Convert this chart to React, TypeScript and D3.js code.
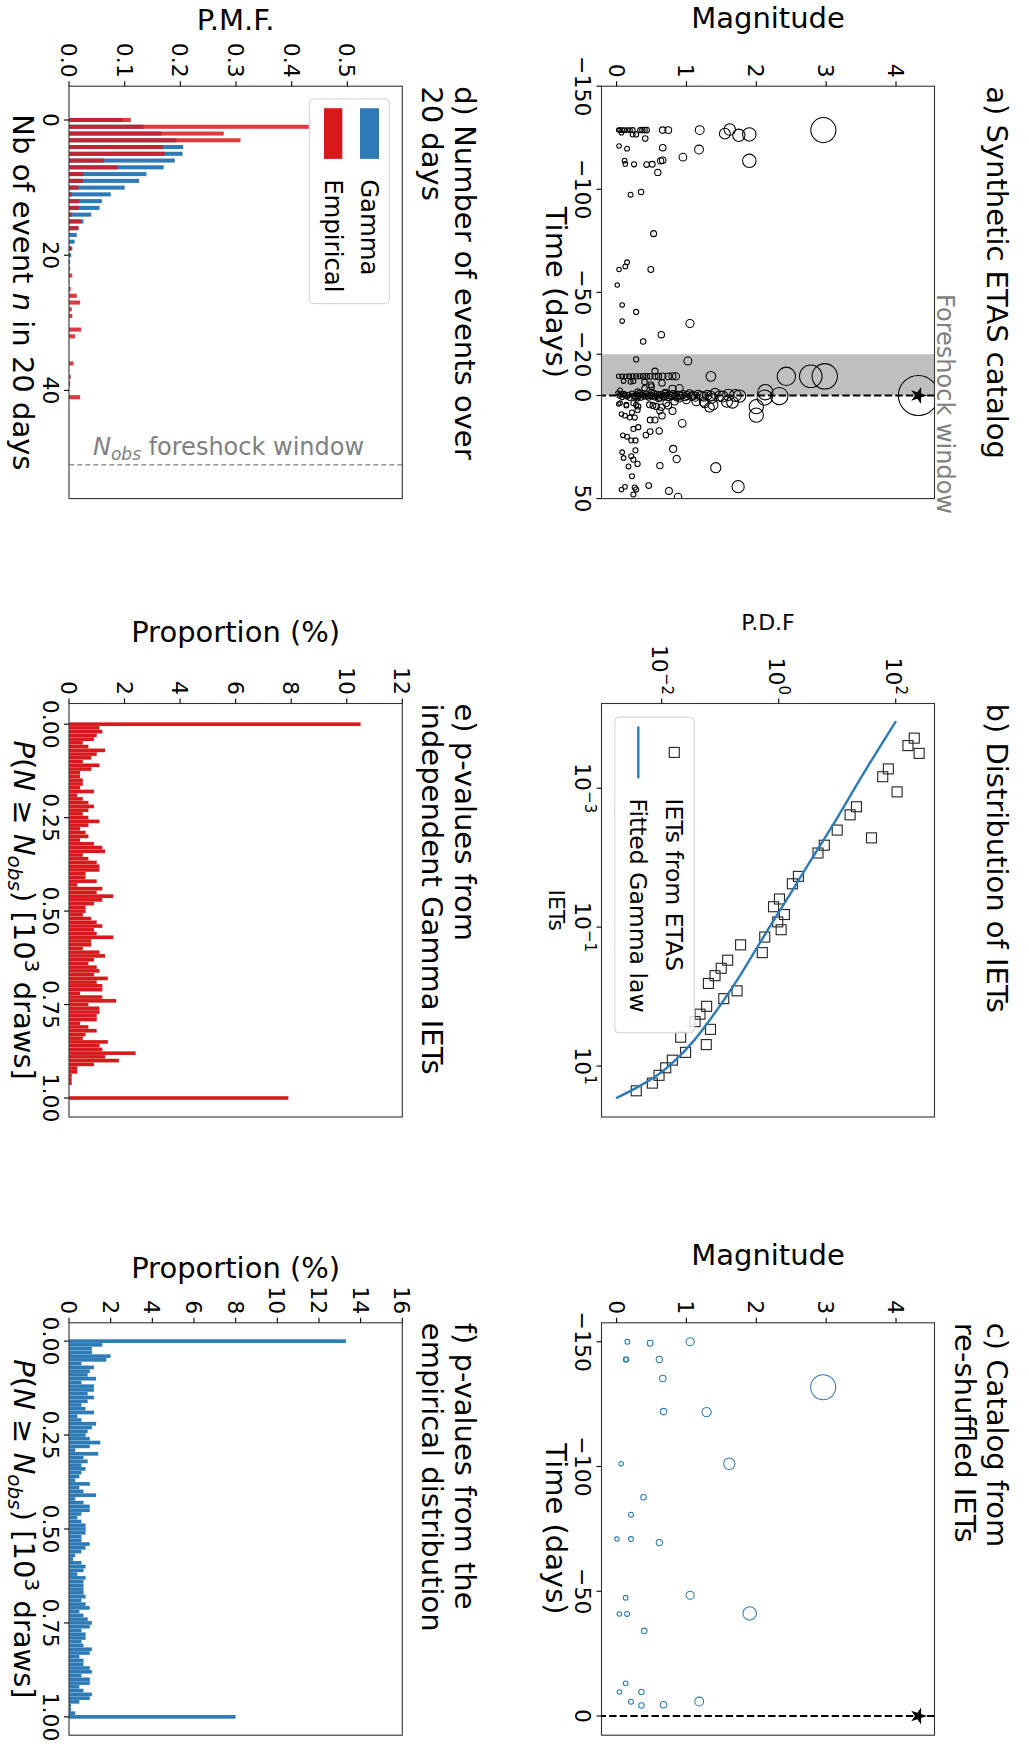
import React from "react";
import * as d3 from "d3";

// ---------------- DATA ----------------
// a) synthetic ETAS catalog: [time (days), magnitude]
const etasEvents: [number, number][] = [
  [-128.7, 0.03], [-128.7, 0.05], [-128.7, 0.08], [-128.7, 0.11], [-128.7, 0.15], [-128.7, 0.19], [-128.7, 0.23],
  [-128.7, 0.34], [-128.7, 0.37], [-128.7, 0.4], [-128.7, 0.43], [-128.7, 0.66], [-128.7, 0.74], [-128.7, 1.19], [-128.7, 2.96],
  [-129, 1.62], [-127.4, 0.07], [-126.6, 0.23], [-126.6, 0.28], [-127, 1.55], [-126.2, 1.75], [-126.6, 1.9],
  [-124.6, 0.41], [-121, 0.035], [-120.2, 0.66], [-119.7, 0.15], [-119.3, 1.18], [-115.6, 0.95], [-113.8, 1.9],
  [-113.9, 0.115], [-113.8, 0.63], [-114.1, 0.66], [-112.3, 0.125], [-112.1, 0.25], [-112, 0.43], [-112.1, 0.51],
  [-108.2, 0.59], [-97.4, 0.2], [-98.7, 0.35], [-78.5, 0.53], [-64.6, 0.15], [-62.6, 0.125], [-61.1, 0.035],
  [-61.1, 0.49], [-53.6, 0.01], [-43.9, 0.08], [-40.5, 0.28], [-36.1, 0.08], [-34.9, 1.05], [-29.5, 0.64], [-26.2, 0.38],
  [-17.5, 0.28], [-16.7, 1.02], [-11.8, 0.55], [-9.3, 1.35], [-9.3, 2.43], [-9.3, 2.78], [-9.3, 2.98],
  [-9.3, 0.03], [-9.3, 0.08], [-9.3, 0.13], [-9.3, 0.18], [-9.3, 0.23], [-9.3, 0.28], [-9.3, 0.33], [-9.3, 0.38],
  [-9.3, 0.43], [-9.3, 0.48], [-9.3, 0.55], [-9.3, 0.6], [-9.3, 0.66], [-9.3, 0.74], [-9.3, 0.8], [-9.3, 0.85],
  [-7, 0.1], [-6.7, 0.2], [-6.9, 0.24], [-6.5, 0.4], [-5.2, 0.49], [-6.1, 0.65], [-3.5, 0.4], [-4.3, 0.5],
  [-3.3, 0.8], [-3.5, 0.9], [-2.5, 0.05], [-2.0, 0.3],
  [-1.2, 0.02], [-0.6, 0.05], [0.3, 0.04], [0.9, 0.08], [-0.9, 0.1], [0.1, 0.12], [0.6, 0.15], [-0.4, 0.17],
  [1.2, 0.19], [-1.0, 0.22], [0.2, 0.24], [0.8, 0.27], [-0.5, 0.29], [0.4, 0.31], [-1.3, 0.33], [1.0, 0.35],
  [-0.2, 0.37], [0.5, 0.4], [-0.8, 0.42], [0.1, 0.44], [0.9, 0.46], [-0.3, 0.49], [0.3, 0.51], [-1.1, 0.53],
  [0.7, 0.55], [-0.6, 0.58], [0.2, 0.6], [1.1, 0.62], [-0.4, 0.64], [0.5, 0.67], [-0.9, 0.69], [0.0, 0.71],
  [0.8, 0.74], [-0.2, 0.76], [0.4, 0.79], [-0.7, 0.81], [0.1, 0.84], [0.9, 0.86], [-0.3, 0.89], [0.3, 0.92],
  [-0.5, 0.95], [0.6, 0.98], [0.0, 1.01], [-0.8, 1.04], [0.4, 1.07], [-0.1, 1.1], [0.7, 1.13], [-0.4, 1.17],
  [0.2, 1.21], [0.5, 1.25], [-0.2, 1.3], [0.3, 1.35], [-0.6, 0.12], [1.4, 0.3], [1.5, 0.6], [-1.4, 0.7],
  [1.3, 0.9], [-1.5, 0.5],
  [-1.6, 2.13], [0.3, 2.33], [1.0, 2.12], [0.3, 1.76], [0.0, 1.7], [-0.3, 1.6], [0.5, 1.52], [3.0, 1.58],
  [4.6, 1.38], [5.4, 2.0], [1.4, 1.36], [-1.0, 1.41], [3.0, 1.25], [0.2, 1.48],
  [3.7, 0.05], [4.5, 0.14], [3.7, 0.24], [5.3, 0.31], [4.5, 0.47], [5.3, 0.57], [3.7, 0.71], [2.9, 0.83],
  [2.1, 1.0], [2.9, 1.14], [3.7, 1.26], [4.1, 0.03], [4.9, 0.14], [4.6, 0.28], [4.9, 0.52], [5.7, 0.64],
  [4.9, 0.74], [5.7, 1.33], [3.3, 1.66], [8.2, 0.22], [7.4, 0.62],
  [9.0, 0.07], [9.8, 0.12], [10.7, 0.19], [10.7, 0.26], [7.0, 0.3], [11.9, 0.48], [11.9, 0.55], [9.8, 0.65],
  [13.5, 0.94], [7.5, 0.8], [17.2, 0.61], [17.5, 0.48], [19.2, 0.42], [16.2, 0.24], [15.4, 0.31], [19.3, 0.09],
  [20, 0.15], [21.8, 0.21], [21.8, 0.27], [25.9, 0.81], [30.8, 0.86], [35.0, 1.42], [34.0, 0.62], [33.2, 0.3],
  [27.5, 0.08], [30.3, 0.1], [34.4, 0.17], [29.5, 0.21], [31.1, 0.24], [26.6, 0.27], [39.2, 0.22], [44.2, 1.74],
  [45.6, 0.07], [44.3, 0.12], [44.6, 0.26], [45.6, 0.28], [43.7, 0.46], [46.3, 0.75], [48.0, 0.24], [9.5, 2.0],
  [49.2, 0.88],
];
const mainShockTime = 0;
const mainShockMag = 4.32;

// c) catalog from re-shuffled IETs: [time (days), magnitude]
const reshuffledEvents: [number, number][] = [
  [-150.0, 0.155], [-149.4, 0.481], [-150.0, 1.053], [-142.9, 0.14], [-142.9, 0.13], [-142.9, 0.612],
  [-135.3, 0.662], [-131.8, 2.957], [-122.0, 0.672], [-121.8, 1.288], [-101.1, 0.065], [-101.1, 1.614],
  [-87.7, 0.386], [-80.7, 0.206], [-70.9, 0.005], [-70.9, 0.206], [-69.5, 0.612], [-48.4, 1.053],
  [-47.4, 0.13], [-40.9, 0.04], [-40.9, 0.15], [-41.1, 1.905], [-34.1, 0.396], [-13.1, 0.13],
  [-9.6, 0.04], [-9.6, 0.356], [-5.7, 0.206], [-4.2, 0.356], [-4.5, 0.672], [-5.8, 1.183],
];

// b) distribution of IETs
const ietBins = [1.905e-4, 2.438e-4, 3.155e-4, 5.28e-4, 6.84e-4, 1.13e-3, 1.85e-3, 2.42e-3, 5.19e-3, 4.01e-3,
  6.62e-3, 8.57e-3, 1.86e-2, 2.38e-2, 3.94e-2, 5.09e-2, 6.59e-2, 8.41e-2, 0.109, 0.139,
  0.18, 0.233, 0.299, 0.391, 0.5, 0.647, 0.826, 1.07, 1.38, 1.79,
  2.29, 2.96, 3.84, 4.91, 6.35, 8.22, 10.6, 13.6, 17.6, 22.7];
const ietPdf = [207.5, 161.8, 251.2, 74.8, 60.0, 105.4, 21.3, 16.6, 38.5, 10.0,
  6.01, 4.69, 2.17, 1.71, 1.03, 0.815, 1.25, 0.962, 1.10, 0.577,
  0.223, 0.524, 0.134, 0.104, 0.0815, 0.0628, 0.194, 0.115, 0.0586, 0.0451,
  0.0372, 0.0682, 0.0211, 0.0578, 0.0256, 0.0152, 0.0117, 0.009, 0.00692, 0.00367];
const gammaIet = [1.08e-4, 6.27e-4, 3.5e-3, 1.19e-2, 3.4e-2, 8.53e-2, 0.201, 0.475, 1.06, 2.21, 4.34, 8.01, 13.1, 20.1, 29.1];
const gammaPdf = [101, 27.7, 8.24, 3.32, 1.55, 0.78, 0.42, 0.226, 0.121, 0.0653, 0.0352, 0.0177, 0.00885, 0.00387, 0.00165];

// d) number of events over 20 days (n = 0..41)
const pmfGamma = [0.096, 0.134, 0.166, 0.193, 0.205, 0.204, 0.19, 0.17, 0.139, 0.126,
  0.1, 0.075, 0.059, 0.055, 0.04, 0.026, 0.017, 0.014, 0.01, 0.006,
  0.004, 0.002, 0.002, 0.001, 0.0006, 0, 0, 0, 0, 0, 0, 0, 0, 0, 0, 0, 0, 0, 0, 0, 0, 0];
const pmfEmpirical = [0.111, 0.431, 0.278, 0.308, 0.169, 0.172, 0.063, 0.087, 0.026, 0.025,
  0.017, 0.005, 0.018, 0.018, 0.005, 0.022, 0.017, 0, 0, 0.004,
  0, 0, 0, 0.006, 0, 0.003, 0.014, 0.02, 0.005, 0.006,
  0, 0.022, 0.011, 0, 0, 0, 0.008, 0, 0.003, 0.002, 0, 0.02];
const nObs = 51;

// e) p-values from independent Gamma IETs (%), bins centred at 0.00 ... 1.00
const propIndependent = [10.5,
  1.1, 1.2, 1.0, 0.9, 0.5, 0.7, 1.3, 1.0, 0.8, 0.5,
  1.1, 0.8, 0.4, 0.4, 0.5, 0.5, 0.4, 0.9, 0.3, 0.5,
  0.7, 0.9, 0.7, 0.5, 0.7, 1.1, 0.7, 0.4, 0.6, 0.7,
  0.4, 0.9, 1.2, 1.3, 0.5, 0.7, 1.0, 1.1, 1.1, 0.6,
  0.6, 1.0, 0.3, 1.2, 1.0, 1.6, 1.2, 0.9, 0.6, 0.6,
  0.5, 0.8, 1.0, 1.2, 0.9, 1.0, 1.6, 0.8, 0.8, 0.5,
  1.1, 1.3, 0.9, 0.7, 1.0, 1.1, 0.9, 1.4, 1.0, 1.2,
  1.2, 0.4, 1.2, 1.7, 0.7, 1.1, 1.1, 1.0, 1.0, 0.4,
  0.7, 1.0, 0.6, 0.5, 1.4, 1.1, 1.2, 2.4, 1.3, 1.8,
  0.9, 0.3, 0.3, 0.1, 0.1, 0.1, 0, 0, 0,
  7.9];
// f) p-values from the empirical distribution (%)
const propEmpirical = [13.3,
  1.6, 1.1, 1.1, 2.0, 1.8, 0.6, 1.2, 1.0, 0.9, 1.3,
  0.6, 1.2, 1.2, 0.9, 1.2, 0.9, 0.6, 0.8, 1.2, 0.4,
  0.6, 1.3, 1.1, 0.9, 0.8, 1.0, 1.5, 1.0, 0.3, 1.4,
  0.7, 0.9, 0.6, 0.8, 0.6, 0.5, 0.3, 1.0, 0.5, 0.7,
  1.3, 0.3, 0.7, 1.0, 1.0, 0.6, 0.4, 0.6, 0.8, 0.8,
  0.8, 0.6, 0.6, 1.0, 0.8, 0.6, 0.3, 0.2, 0.6, 0.8,
  0.7, 0.4, 0.8, 0.7, 0.7, 0.7, 0.7, 0.8, 0.6, 0.8,
  1.0, 0.5, 0.7, 0.9, 1.1, 1.0, 0.6, 0.8, 0.8, 0.6,
  0.7, 1.1, 1.0, 0.5, 0.7, 0.7, 1.0, 1.1, 0.6, 1.0,
  1.0, 0.5, 0.7, 1.1, 1.0, 0.5, 0.1, 0.1, 0.3,
  8.0];
const pBinWidth = 0.01;

// tick values
const timeTicksA = [-150, -100, -50, -20, 0, 50];
const timeTicksC = [-150, -100, -50, 0];
const magTicks = [0, 1, 2, 3, 4];
const ietTicks = [1e-3, 1e-1, 1e1];
const pdfTicks = [1e-2, 1, 1e2];
const nTicks = [0, 20, 40];
const pmfTicks = [0, 0.1, 0.2, 0.3, 0.4, 0.5];
const pTicks = [0, 0.25, 0.5, 0.75, 1];
const propTicksE = [0, 2, 4, 6, 8, 10, 12];
const propTicksF = [0, 2, 4, 6, 8, 10, 12, 14, 16];

// ---------------- STYLE ----------------
const FONT = "DejaVu Sans, Liberation Sans, sans-serif";
const RED = "#d7191c";
const BLUE = "#2c7bb6";
const SPINE = "#333";
const TICK_FS = 22;
const LABEL_FS = 29;
const TITLE_FS = 29;

const markerRadius = (m: number) => 2.2 * Math.pow(1.8, m);
const signed = (v: number) => (v < 0 ? "\u2212" + Math.abs(v) : String(v));

type Box = { x0: number; x1: number; y0: number; y1: number };

const boxA: Box = { x0: 86.2, x1: 498.6, y0: 94.5, y1: 427.5 };
const boxB: Box = { x0: 703.5, x1: 1117, y0: 94.5, y1: 427.5 };
const boxC: Box = { x0: 1322.8, x1: 1735.2, y0: 94.5, y1: 427.5 };
const boxD: Box = { x0: 86.2, x1: 498.6, y0: 626.7, y1: 960 };
const boxE: Box = { x0: 703.5, x1: 1117, y0: 626.7, y1: 960 };
const boxF: Box = { x0: 1322.8, x1: 1735.2, y0: 626.7, y1: 960 };

function Frame({ b }: { b: Box }) {
  return <rect x={b.x0} y={b.y0} width={b.x1 - b.x0} height={b.y1 - b.y0} fill="none" stroke={SPINE} strokeWidth={1.1} />;
}

function BottomTicks({ b, ticks, scale, fmt, fs = TICK_FS }: any) {
  return (
    <g>
      {ticks.map((t: number, i: number) => (
        <g key={i}>
          <line x1={scale(t)} x2={scale(t)} y1={b.y1} y2={b.y1 + 5} stroke="#000" strokeWidth={1.1} />
          <text x={scale(t)} y={b.y1 + 26.5} textAnchor="middle" fontSize={fs}>{fmt(t)}</text>
        </g>
      ))}
    </g>
  );
}

function LeftTicks({ b, ticks, scale, fmt, fs = TICK_FS }: any) {
  return (
    <g>
      {ticks.map((t: number, i: number) => (
        <g key={i}>
          <line x1={b.x0 - 5} x2={b.x0} y1={scale(t)} y2={scale(t)} stroke="#000" strokeWidth={1.1} />
          <text x={b.x0 - 8.5} y={scale(t) + 8} textAnchor="end" fontSize={fs}>{fmt(t)}</text>
        </g>
      ))}
    </g>
  );
}

function Title({ b, lines }: { b: Box; lines: string[] }) {
  const ys = lines.length === 1 ? [b.y0 - 52.5] : [b.y0 - 52.5, b.y0 - 20];
  return (
    <g>
      {lines.map((l, i) => (
        <text key={i} x={b.x0} y={ys[i]} fontSize={TITLE_FS}>{l}</text>
      ))}
    </g>
  );
}

function YLabel({ x, y, fs = LABEL_FS, children }: any) {
  return (
    <text transform={`translate(${x},${y}) rotate(-90)`} textAnchor="middle" fontSize={fs}>{children}</text>
  );
}

function Catalog({ b, events, domainT, ticksT, color, title, clipId, withShock, shade, fwText }: any) {
  const x = d3.scaleLinear().domain(domainT).range([b.x0, b.x1]);
  const y = d3.scaleLinear().domain([-0.216, 4.551]).range([b.y1, b.y0]);
  const star = d3.symbol().type(d3.symbolStar).size(88)() as string;
  return (
    <g>
      <defs>
        <clipPath id={clipId}>
          <rect x={b.x0} y={b.y0} width={b.x1 - b.x0} height={b.y1 - b.y0} />
        </clipPath>
      </defs>
      {shade && (
        <rect x={x(-20)} y={b.y0} width={x(0) - x(-20)} height={b.y1 - b.y0} fill="#bfbfbf" />
      )}
      <g clipPath={`url(#${clipId})`}>
        {events.map(([t, m]: [number, number], i: number) => (
          <circle key={i} cx={x(t)} cy={y(m)} r={markerRadius(m)} fill="none" stroke={color} strokeWidth={1.05} />
        ))}
        {withShock && (
          <circle cx={x(mainShockTime)} cy={y(mainShockMag)} r={20} fill="none" stroke="#000" strokeWidth={1.05} />
        )}
      </g>
      <line x1={x(0)} x2={x(0)} y1={b.y0} y2={b.y1} stroke="#000" strokeWidth={2} strokeDasharray="7.4 3.2" />
      <path d={star} transform={`translate(${x(mainShockTime)},${y(mainShockMag)})`} fill="#000" />
      <Frame b={b} />
      <BottomTicks b={b} ticks={ticksT} scale={x} fmt={signed} />
      <LeftTicks b={b} ticks={magTicks} scale={y} fmt={(v: number) => String(v)} />
      <text x={(b.x0 + b.x1) / 2} y={b.y1 + 55.5} textAnchor="middle" fontSize={LABEL_FS}>Time (days)</text>
      <YLabel x={b.x0 - 58} y={(b.y0 + b.y1) / 2}>Magnitude</YLabel>
      <Title b={b} lines={title} />
      {fwText && (
        <text x={x(-49.2)} y={b.y0 - 2.5} fontSize={24} fill="#808080">Foreshock window</text>
      )}
    </g>
  );
}

function Sup10({ v }: { v: number }) {
  const e = Math.round(Math.log10(v));
  return (
    <>
      10<tspan dy={-10} fontSize={15}>{e < 0 ? "\u2212" + Math.abs(e) : String(e)}</tspan>
    </>
  );
}

function PanelB() {
  const b = boxB;
  const x = d3.scaleLog().domain([6.04e-5, 54.1]).range([b.x0, b.x1]);
  const y = d3.scaleLog().domain([9.35e-4, 460]).range([b.y1, b.y0]);
  const line = d3.line<number>().x((d, i) => x(gammaIet[i])).y((d) => y(d)).curve(d3.curveCatmullRom);
  const sq = 10;
  return (
    <g>
      <defs>
        <clipPath id="clipB">
          <rect x={b.x0} y={b.y0} width={b.x1 - b.x0} height={b.y1 - b.y0} />
        </clipPath>
      </defs>
      <g clipPath="url(#clipB)">
        {ietBins.map((v, i) => (
          <rect key={i} x={x(v) - sq / 2} y={y(ietPdf[i]) - sq / 2} width={sq} height={sq} fill="none" stroke="#222" strokeWidth={1.1} />
        ))}
        <path d={line(gammaPdf) as string} fill="none" stroke={BLUE} strokeWidth={2.4} />
      </g>
      {/* legend */}
      <rect x={717.2} y={334.7} width={315.6} height={79.5} rx={4} fill="#fff" fillOpacity={0.8} stroke="#d0d0d0" strokeWidth={1} />
      <rect x={752.4 - sq / 2} y={354.7 - sq / 2} width={sq} height={sq} fill="none" stroke="#222" strokeWidth={1.1} />
      <text x={798.6} y={363} fontSize={23.5}>IETs from ETAS</text>
      <line x1={726.5} x2={778.3} y1={390.7} y2={390.7} stroke={BLUE} strokeWidth={2.4} />
      <text x={798.6} y={399} fontSize={23.5}>Fitted Gamma law</text>
      <Frame b={b} />
      {ietTicks.map((t, i) => (
        <g key={i}>
          <line x1={x(t)} x2={x(t)} y1={b.y1} y2={b.y1 + 5} stroke="#000" strokeWidth={1.1} />
          <text x={x(t)} y={b.y1 + 27} textAnchor="middle" fontSize={22}><Sup10 v={t} /></text>
        </g>
      ))}
      {pdfTicks.map((t, i) => (
        <g key={i}>
          <line x1={b.x0 - 5} x2={b.x0} y1={y(t)} y2={y(t)} stroke="#000" strokeWidth={1.1} />
          <text x={b.x0 - 8.5} y={y(t) + 10} textAnchor="end" fontSize={22}><Sup10 v={t} /></text>
        </g>
      ))}
      <text x={(b.x0 + b.x1) / 2} y={b.y1 + 53} textAnchor="middle" fontSize={22}>IETs</text>
      <YLabel x={630} y={(b.y0 + b.y1) / 2} fs={22}>P.D.F</YLabel>
      <Title b={b} lines={["b) Distribution of IETs"]} />
    </g>
  );
}

function PanelD() {
  const b = boxD;
  const x = d3.scaleLinear().domain([-5, 56]).range([b.x0, b.x1]);
  const y = d3.scaleLinear().domain([0, 0.5987]).range([b.y1, b.y0]);
  const w = x(0.3) - x(-0.3);
  return (
    <g>
      {pmfGamma.map((v, n) =>
        v > 0 ? <rect key={"g" + n} x={x(n) - w / 2} y={y(v)} width={w} height={b.y1 - y(v)} fill={BLUE} /> : null
      )}
      {pmfEmpirical.map((v, n) =>
        v > 0 ? <rect key={"e" + n} x={x(n) - w / 2} y={y(v)} width={w} height={b.y1 - y(v)} fill={RED} fillOpacity={0.85} /> : null
      )}
      <line x1={x(nObs)} x2={x(nObs)} y1={b.y0} y2={b.y1} stroke="#808080" strokeWidth={1.3} strokeDasharray="5 3" />
      <text transform={`translate(${x(nObs) - 10},${936}) rotate(-90)`} fontSize={24} fill="#808080">
        <tspan fontStyle="italic">N</tspan>
        <tspan fontStyle="italic" fontSize={17} dy={5}>obs</tspan>
        <tspan dy={-5}>{" foreshock window"}</tspan>
      </text>
      {/* legend */}
      <rect x={99} y={639.7} width={204.6} height={80} rx={4} fill="#fff" fillOpacity={0.8} stroke="#d0d0d0" strokeWidth={1} />
      <rect x={108.2} y={650} width={50.7} height={19} fill={BLUE} />
      <text x={179.2} y={668} fontSize={24.4}>Gamma</text>
      <rect x={108.2} y={686.7} width={50.7} height={18.3} fill={RED} />
      <text x={179.2} y={704.5} fontSize={24.4}>Empirical</text>
      <Frame b={b} />
      <BottomTicks b={b} ticks={nTicks} scale={x} fmt={(v: number) => String(v)} />
      <LeftTicks b={b} ticks={pmfTicks} scale={y} fmt={(v: number) => v.toFixed(1)} />
      <text x={(b.x0 + b.x1) / 2} y={1016} textAnchor="middle" fontSize={LABEL_FS}>
        Nb of event <tspan fontStyle="italic">n</tspan> in 20 days
      </text>
      <YLabel x={29.5} y={(b.y0 + b.y1) / 2}>P.M.F.</YLabel>
      <Title b={b} lines={["d) Number of events over", "20 days"]} />
    </g>
  );
}

function PValues({ b, values, color, pDomain, propMax, propTicks, title, ylabX }: any) {
  const x = d3.scaleLinear().domain(pDomain).range([b.x0, b.x1]);
  const y = d3.scaleLinear().domain([0, propMax]).range([b.y1, b.y0]);
  const w = x(pBinWidth) - x(0);
  return (
    <g>
      {values.map((v: number, k: number) =>
        v > 0 ? (
          <rect key={k} x={x(k * pBinWidth) - w / 2} y={y(v)} width={w} height={b.y1 - y(v)} fill={color} stroke="#fff" strokeOpacity={0.25} strokeWidth={0.4} />
        ) : null
      )}
      <Frame b={b} />
      <BottomTicks b={b} ticks={pTicks} scale={x} fmt={(v: number) => v.toFixed(2)} />
      <LeftTicks b={b} ticks={propTicks} scale={y} fmt={(v: number) => String(v)} />
      <text x={(b.x0 + b.x1) / 2} y={1015} textAnchor="middle" fontSize={LABEL_FS}>
        <tspan fontStyle="italic">P</tspan>(<tspan fontStyle="italic">N</tspan>{" \u2265 "}<tspan fontStyle="italic">N</tspan>
        <tspan fontStyle="italic" fontSize={20} dy={6}>obs</tspan>
        <tspan dy={-6}>{") [10"}</tspan>
        <tspan fontSize={20} dy={-11}>3</tspan>
        <tspan dy={11}>{" draws]"}</tspan>
      </text>
      <YLabel x={ylabX} y={(b.y0 + b.y1) / 2}>Proportion (%)</YLabel>
      <Title b={b} lines={title} />
    </g>
  );
}

export default function App() {
  return (
    <svg width={1029} height={1751} style={{ position: "absolute", left: 0, top: 0, display: "block" }} fontFamily={FONT}>
      <rect x={0} y={0} width={1029} height={1751} fill="#fff" />
      <g transform="translate(1029,0) rotate(90)">
        <Catalog
          b={boxA}
          events={etasEvents}
          domainT={[-150, 50]}
          ticksT={timeTicksA}
          color="#000"
          title={["a) Synthetic ETAS catalog"]}
          clipId="clipA"
          withShock={true}
          shade={true}
          fwText={true}
        />
        <PanelB />
        <Catalog
          b={boxC}
          events={reshuffledEvents}
          domainT={[-157.6, 7.7]}
          ticksT={timeTicksC}
          color={BLUE}
          title={["c) Catalog from", "re-shuffled IETs"]}
          clipId="clipC"
          withShock={false}
          shade={false}
          fwText={false}
        />
        <PanelD />
        <PValues
          b={boxE}
          values={propIndependent}
          color={RED}
          pDomain={[-0.0553, 1.0508]}
          propMax={12}
          propTicks={propTicksE}
          title={["e) p-values from", "independent Gamma IETs"]}
          ylabX={642}
        />
        <PValues
          b={boxF}
          values={propEmpirical}
          color={BLUE}
          pDomain={[-0.0487, 1.0487]}
          propMax={16}
          propTicks={propTicksF}
          title={["f) p-values from the", "empirical distribution"]}
          ylabX={1278}
        />
      </g>
    </svg>
  );
}
